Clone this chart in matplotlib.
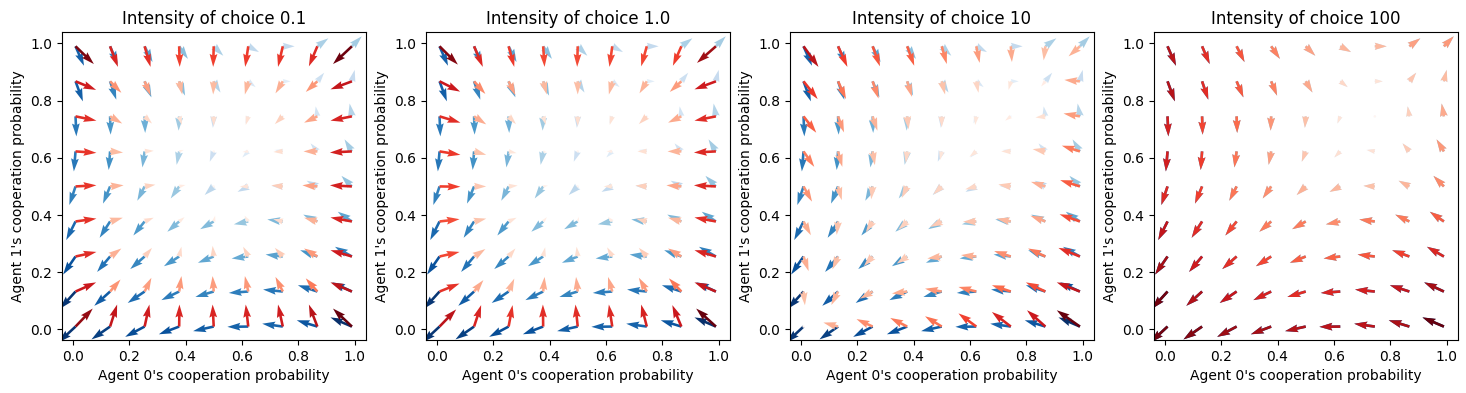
import numpy as np
import matplotlib
matplotlib.use('Agg')
import matplotlib.pyplot as plt

# grid of cooperation probabilities (same for both agents)
coop = np.linspace(0.01, 0.99, 9)
titles = ['Intensity of choice 0.1', 'Intensity of choice 1.0',
          'Intensity of choice 10', 'Intensity of choice 100']

# vectors, in hundredths of a probability unit
# rows go from top (p1 = 0.99) to bottom (p1 = 0.01), columns p0 = 0.01 .. 0.99

# blue field (same in every panel)
greedy_u = [
    [3.0, 2.7, 2.8, 3.1, 3.4, 3.8, 4.2, 3.9, 3.5],
    [2.6, 2.2, 2.4, 2.1, 2.4, 2.6, 2.8, 2.4, 1.0],
    [0.3, 0.2, 0.2, -0.2, -0.3, -1.0, -0.3, -0.6, -0.8],
    [-0.6, -0.5, -0.8, -0.9, -1.4, -2.1, -2.8, -2.4, -2.6],
    [-2.2, -2.5, -2.6, -3.0, -3.2, -3.8, -4.0, -3.8, -3.7],
    [-3.3, -3.7, -4.0, -4.2, -4.8, -5.1, -5.5, -5.0, -5.0],
    [-4.4, -4.6, -5.1, -5.4, -5.6, -5.9, -6.1, -6.1, -6.0],
    [-5.5, -5.6, -6.0, -6.3, -6.5, -6.9, -7.0, -6.9, -7.0],
    [-6.0, -6.6, -6.9, -7.2, -7.3, -7.4, -7.3, -7.3, -7.6],
]
greedy_v = [
    [-6.8, -6.2, -5.5, -4.4, -3.3, -2.0, 0.0, 2.8, 3.5],
    [-7.0, -6.4, -5.6, -5.0, -3.9, -2.0, 0.0, 3.0, 4.0],
    [-7.0, -6.4, -5.8, -5.0, -4.0, -2.5, -0.5, 3.5, 4.5],
    [-7.0, -6.5, -5.6, -4.7, -3.6, -2.1, 0.5, 2.8, 4.2],
    [-6.5, -6.0, -5.0, -4.2, -3.0, -1.9, 0.2, 2.0, 3.7],
    [-6.5, -5.7, -4.9, -3.6, -2.7, -1.0, 0.7, 2.4, 3.4],
    [-6.3, -5.4, -4.4, -3.4, -2.2, -0.7, 0.7, 2.2, 3.4],
    [-6.0, -5.0, -4.0, -3.0, -1.9, -0.5, 0.7, 2.2, 3.2],
    [-5.5, -4.5, -3.6, -2.7, -1.6, -0.1, 1.0, 2.2, 3.2],
]

# red field, intensity 0.1
red_u_01 = [
    [6.5, 2.8, 2.1, 0.2, -0.2, -1.1, -1.7, -3.0, -6.7],
    [7.3, 4.0, 2.1, 1.1, -0.2, -1.2, -2.6, -4.1, -7.6],
    [7.4, 4.3, 2.6, 1.0, 0.0, -0.9, -2.8, -4.7, -7.6],
    [7.4, 4.6, 3.2, 1.6, 0.3, -2.0, -3.3, -4.9, -7.8],
    [7.4, 4.8, 3.8, 2.2, 0.0, -3.0, -4.0, -5.3, -7.8],
    [7.4, 4.5, 3.2, 1.9, 0.5, -1.3, -3.4, -4.7, -7.6],
    [7.4, 4.0, 2.6, 0.8, -0.4, -1.8, -2.8, -4.7, -7.6],
    [7.3, 3.7, 2.4, 0.8, -0.4, -1.2, -2.6, -4.1, -7.6],
    [6.1, 2.5, 1.7, 0.1, -0.4, -0.9, -1.7, -3.0, -6.7],
]
red_v_01 = [
    [-6.2, -7.2, -7.2, -7.2, -7.2, -7.2, -7.2, -7.0, -6.2],
    [-3.0, -4.0, -4.9, -4.6, -4.6, -4.6, -4.2, -3.7, -2.8],
    [-1.5, -2.5, -2.5, -3.0, -3.4, -3.0, -2.7, -2.2, -1.5],
    [-0.5, -0.4, 0.2, 0.5, -0.3, -0.2, -0.2, 0.0, -0.4],
    [0.4, 0.4, 0.6, 0.5, 0.0, -0.1, 0.4, 0.4, 0.4],
    [1.0, 1.3, 1.3, 1.5, 2.0, 2.0, 0.8, 1.3, 1.4],
    [1.6, 2.8, 3.0, 3.4, 3.7, 3.4, 3.0, 2.8, 2.2],
    [3.2, 4.2, 4.8, 5.4, 5.4, 5.4, 5.1, 4.6, 3.2],
    [6.3, 7.7, 7.7, 7.7, 7.7, 7.7, 7.7, 7.7, 6.3],
]

# red field, intensity 1.0
red_u_1 = [
    [6.5, 3.1, 2.0, 0.5, -0.2, -1.0, -2.0, -3.0, -6.7],
    [7.3, 4.0, 2.4, 1.3, 0.0, -1.2, -2.6, -4.1, -7.6],
    [7.4, 4.3, 2.6, 1.0, 0.0, -0.9, -2.8, -4.7, -7.6],
    [7.4, 4.3, 2.8, 1.4, 0.2, -2.0, -3.3, -4.9, -7.8],
    [7.4, 4.3, 3.2, 1.7, 0.0, -3.0, -4.0, -5.3, -7.8],
    [7.1, 4.3, 2.8, 1.3, 0.4, -1.5, -3.8, -4.7, -7.6],
    [7.1, 4.0, 2.4, 0.7, -0.4, -1.8, -2.8, -4.7, -7.6],
    [7.1, 3.3, 2.0, 0.5, -0.6, -1.5, -2.8, -4.4, -7.6],
    [5.9, 2.5, 1.4, -0.1, -0.8, -1.2, -2.0, -3.2, -7.0],
]
red_v_1 = [
    [-6.4, -7.2, -7.2, -7.2, -7.2, -7.2, -7.0, -6.8, -5.8],
    [-3.6, -4.4, -4.9, -4.6, -4.6, -4.6, -4.2, -3.7, -2.8],
    [-2.2, -2.8, -2.7, -3.0, -3.4, -3.0, -2.7, -2.2, -1.5],
    [-1.2, -1.2, -0.6, -0.4, -0.3, 0.0, 0.0, 0.0, -0.4],
    [-0.1, 0.0, 0.3, 0.3, 0.0, 0.0, 0.3, 0.4, 0.4],
    [0.8, 1.0, 1.3, 1.5, 1.6, 1.6, 1.0, 1.3, 1.4],
    [1.6, 2.6, 2.8, 3.2, 3.4, 3.2, 3.0, 2.8, 2.2],
    [2.8, 4.0, 4.5, 5.1, 5.1, 5.1, 4.8, 4.6, 3.2],
    [6.0, 7.5, 7.5, 7.7, 7.7, 7.7, 7.7, 7.5, 6.3],
]

# red field, intensity 10
red_u_10 = [
    [5.3, 3.3, 2.6, 2.5, 1.8, 1.2, 0.4, -0.6, -4.0],
    [5.0, 2.8, 2.1, 1.7, 1.2, 0.8, -0.8, -1.5, -5.5],
    [4.5, 2.1, 1.7, 0.5, 0.0, -0.4, -2.0, -3.5, -5.8],
    [3.8, 1.5, 0.8, -0.5, -0.6, -2.4, -3.4, -4.5, -6.4],
    [3.0, 1.3, -0.5, -1.9, -3.0, -3.9, -4.4, -5.1, -7.0],
    [2.6, -0.5, -2.4, -3.1, -4.1, -4.7, -5.0, -5.3, -7.2],
    [1.8, -2.0, -3.1, -3.7, -5.1, -5.4, -5.9, -6.1, -7.6],
    [0.5, -2.4, -4.5, -5.4, -5.9, -6.3, -6.7, -6.9, -8.2],
    [-0.5, -5.2, -5.7, -6.0, -5.9, -6.3, -6.7, -6.5, -8.2],
]
red_v_10 = [
    [-7.2, -7.2, -7.0, -6.8, -6.2, -5.8, -5.5, -4.9, -3.5],
    [-6.2, -6.2, -6.0, -5.4, -4.6, -4.0, -3.0, -1.8, 0.5],
    [-5.7, -5.6, -5.0, -4.5, -3.8, -3.0, -1.5, -0.4, 1.0],
    [-5.4, -5.4, -4.8, -4.0, -3.0, -1.9, 0.0, 0.8, 2.0],
    [-5.3, -4.8, -4.5, -4.0, -2.8, -1.0, 0.7, 1.6, 2.2],
    [-4.8, -4.7, -3.8, -2.9, -1.9, -0.1, 1.0, 2.0, 2.5],
    [-5.1, -4.5, -3.4, -2.5, -0.7, 0.5, 1.9, 2.8, 3.0],
    [-4.8, -4.7, -2.5, -0.7, 1.0, 1.6, 2.2, 3.2, 3.2],
    [0.3, 1.4, 2.6, 3.0, 3.6, 4.6, 5.1, 5.7, 5.7],
]

# red field, intensity 100 (lies on top of the blue one)
red_u_100 = greedy_u
red_v_100 = greedy_v

red_fields = [(red_u_01, red_v_01), (red_u_1, red_v_1),
              (red_u_10, red_v_10), (red_u_100, red_v_100)]


def draw_field(ax, X, Y, u, v, cmap):
    U = np.array(u) / 100
    V = np.array(v) / 100
    C = U ** 2 + V ** 2
    ax.quiver(X, Y, U, V, C, cmap=cmap, angles='xy', scale_units='xy', scale=1,
              width=0.0085)


def main():
    fig = plt.figure(figsize=(14.66, 3.93), dpi=100)
    X, Y = np.meshgrid(coop, coop[::-1])

    lefts = [62, 426, 790, 1154]
    for i, left in enumerate(lefts):
        ax = fig.add_axes([left / 1466, 53 / 393, 304 / 1466, 308 / 393])
        draw_field(ax, X, Y, greedy_u, greedy_v, 'Blues')
        draw_field(ax, X, Y, red_fields[i][0], red_fields[i][1], 'Reds')
        ax.set_xlim(-0.038, 1.04)
        ax.set_ylim(-0.037, 1.04)
        ax.set_xticks(np.arange(0, 1.01, 0.2))
        ax.set_yticks(np.arange(0, 1.01, 0.2))
        ax.set_title(titles[i])
        ax.set_xlabel("Agent 0's cooperation probability")
        ax.set_ylabel("Agent 1's cooperation probability")

    fig.savefig('out.png', dpi=100)


if __name__ == '__main__':
    main()
